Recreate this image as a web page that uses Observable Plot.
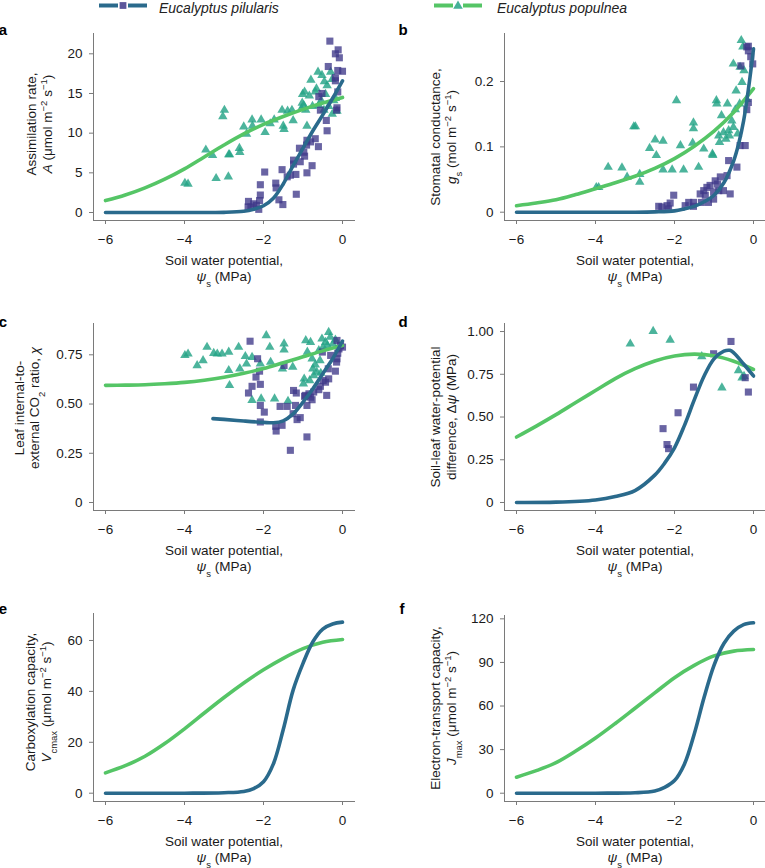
<!DOCTYPE html>
<html><head><meta charset="utf-8">
<script src="https://cdn.jsdelivr.net/npm/d3@7"></script>
<script src="https://cdn.jsdelivr.net/npm/@observablehq/plot@0.6"></script>
<style>
body{margin:0;background:#fff;font-family:"Liberation Sans",Arial,sans-serif;}
#root{position:relative;width:765px;height:868px;overflow:hidden;}
#root svg.panel{position:absolute;}
#root svg.panel text{font-family:"Liberation Sans",Arial,sans-serif;font-size:13.5px;}
</style></head><body><div id="root"></div>
<script>
// ---------- DATA ----------
const speciesNames = ["Eucalyptus pilularis", "Eucalyptus populnea"];
const xTicks = [-6, -4, -2, 0];
const halfGrid = [-6, -5.5, -5, -4.5, -4, -3.5, -3, -2.5, -2, -1.5, -1, -0.5, 0];

// Panel a: assimilation rate
const aTicks = [0, 5, 10, 15, 20];
const aPopulnea = [[-3.99,3.7],[-3.91,3.6],[-3.46,7.9],[-3.29,7.2],[-3.20,4.3],[-2.99,12.9],[-3.03,12.1],[-2.88,7.3],[-2.89,4.5],[-2.86,7.3],[-2.61,8.1],[-2.60,7.6],[-2.50,10.8],[-2.43,9.9],[-2.29,11.7],[-2.28,10.9],[-2.06,11.7],[-1.96,10.1],[-1.83,11.2],[-1.73,11.7],[-1.53,12.9],[-1.50,10.9],[-1.48,10.5],[-1.39,12.8],[-1.25,11.6],[-1.28,12.9],[-1.04,13.1],[-1.01,14.9],[-0.96,15.2],[-1.02,13.8],[-0.98,13.5],[-0.93,12.9],[-0.90,10.9],[-0.84,14.7],[-0.80,16.7],[-0.76,13.4],[-0.69,15.2],[-0.66,15.6],[-0.62,17.7],[-0.60,13.5],[-0.54,14.1],[-0.52,17.3],[-0.46,16.5],[-0.43,14.9],[-0.39,16.0],[-0.35,13.4],[-0.30,17.7],[-0.26,12.4],[-0.22,14.1],[-0.26,16.8],[-0.14,12.8],[-0.18,14.4],[-0.47,12.9]];
const aPilularis = [[-0.32,21.6],[-0.18,20.0],[-0.11,20.5],[-0.08,19.5],[-0.36,18.4],[-0.12,17.9],[0,17.8],[-0.18,17.0],[-0.18,16.6],[-0.12,15.2],[-0.52,15.0],[-0.60,14.6],[-0.14,13.2],[-0.15,12.9],[-0.56,12.9],[-0.41,11.6],[-0.39,10.3],[-0.69,9.3],[-0.90,9.1],[-0.91,8.5],[-0.81,8.9],[-0.61,8.3],[-1.09,8.1],[-0.98,7.6],[-0.96,7.1],[-1.07,6.4],[-1.24,6.6],[-0.77,5.9],[-1.24,6.1],[-1.18,4.8],[-1.32,4.7],[-1.40,4.5],[-0.90,5.0],[-1.53,5.4],[-1.17,2.3],[-1.69,3.7],[-1.68,3.1],[-1.61,1.6],[-1.51,1.0],[-1.97,5.1],[-2.08,3.5],[-2.08,2.2],[-2.10,1.5],[-2.38,1.4],[-2.25,1.1],[-2.18,0.9],[-2.12,0.4],[-2.32,0.7],[-2.39,0.7]];
const aFitPopulnea = [1.5, 2.2, 3.1, 4.2, 5.5, 7.0, 8.5, 9.9, 11.1, 12.1, 13.0, 13.8, 14.5];
const aFitPilX = [-6, -5, -4, -3, -2.5, -2.25, -2, -1.75, -1.5, -1.25, -1, -0.75, -0.5, -0.25, 0];
const aFitPilY = [0, 0, 0, 0.02, 0.15, 0.4, 0.85, 1.8, 3.6, 5.9, 8.1, 10.3, 12.3, 14.4, 16.6];

// Panel b: stomatal conductance
const bTicks = [0, 0.1, 0.2];
const bPopulnea = [[-3.98,0.038],[-3.92,0.038],[-3.68,0.069],[-3.33,0.068],[-3.20,0.054],[-3.03,0.131],[-2.99,0.131],[-2.88,0.058],[-2.88,0.046],[-2.63,0.098],[-2.49,0.111],[-2.46,0.087],[-2.29,0.109],[-2.29,0.065],[-2.06,0.065],[-1.95,0.171],[-1.85,0.102],[-1.77,0.065],[-1.52,0.137],[-1.52,0.128],[-1.54,0.106],[-1.39,0.069],[-1.26,0.097],[-1.04,0.089],[-1.03,0.087],[-0.94,0.171],[-0.93,0.166],[-0.88,0.117],[-0.86,0.107],[-0.81,0.148],[-0.76,0.122],[-0.70,0.112],[-0.66,0.166],[-0.63,0.125],[-0.61,0.117],[-0.55,0.140],[-0.51,0.130],[-0.46,0.157],[-0.44,0.186],[-0.40,0.120],[-0.35,0.166],[-0.34,0.222],[-0.29,0.199],[-0.31,0.263],[-0.27,0.253],[-0.24,0.217],[-0.17,0.173],[-0.51,0.227]];
const bPilularis = [[-0.17,0.253],[-0.13,0.254],[-0.13,0.247],[-0.07,0.238],[-0.32,0.224],[-0.02,0.227],[-0.13,0.168],[-0.17,0.157],[-0.34,0.102],[-0.21,0.102],[-0.42,0.069],[-0.63,0.079],[-0.67,0.056],[-0.84,0.054],[-0.97,0.048],[-0.91,0.043],[-0.88,0.033],[-1.10,0.041],[-1.18,0.038],[-1.26,0.033],[-1.35,0.028],[-1.22,0.026],[-1.01,0.020],[-1.14,0.015],[-1.32,0.015],[-1.52,0.015],[-1.52,0.009],[-1.64,0.015],[-1.73,0.010],[-2.02,0.026],[-2.11,0.014],[-2.19,0.010],[-2.32,0.008],[-2.40,0.009],[-2.15,0.005],[-0.76,0.033],[-0.59,0.028],[-1.01,0.031]];
const bFitPopulnea = [0.010, 0.014, 0.019, 0.027, 0.036, 0.045, 0.055, 0.067, 0.082, 0.101, 0.124, 0.153, 0.189];
const bFitPilX = [-6, -5, -4, -3, -2.5, -2, -1.75, -1.5, -1.25, -1, -0.75, -0.5, -0.375, -0.25, -0.125, 0];
const bFitPilY = [0, 0, 0, 0, 0.0005, 0.002, 0.005, 0.009, 0.016, 0.026, 0.045, 0.079, 0.105, 0.14, 0.19, 0.25];

// Panel c: ci/ca ratio
const cTicks = [0, 0.25, 0.5, 0.75];
const cPopulnea = [[-3.99,0.747],[-3.91,0.755],[-3.68,0.696],[-3.53,0.721],[-3.43,0.789],[-3.26,0.758],[-3.17,0.755],[-3.05,0.755],[-2.88,0.764],[-2.88,0.671],[-2.86,0.595],[-2.63,0.789],[-2.60,0.679],[-2.46,0.742],[-2.43,0.704],[-2.29,0.738],[-2.29,0.519],[-2.08,0.704],[-2.06,0.527],[-1.93,0.848],[-1.84,0.789],[-1.82,0.713],[-1.72,0.527],[-1.52,0.679],[-1.48,0.806],[-1.48,0.775],[-1.38,0.515],[-1.26,0.688],[-0.97,0.628],[-0.99,0.603],[-0.93,0.823],[-0.89,0.764],[-0.83,0.620],[-0.81,0.814],[-0.77,0.730],[-0.75,0.679],[-0.73,0.645],[-0.69,0.700],[-0.65,0.662],[-0.60,0.772],[-0.57,0.721],[-0.52,0.831],[-0.49,0.789],[-0.43,0.814],[-0.35,0.865],[-0.31,0.840],[-0.24,0.806],[-0.38,0.797],[-0.18,0.826],[-0.55,0.657]];
const cPilularis = [[-2.34,0.819],[-2.15,0.730],[-2.10,0.667],[-2.19,0.637],[-2.29,0.590],[-2.38,0.556],[-2.08,0.600],[-2.08,0.493],[-1.98,0.459],[-2.08,0.409],[-1.48,0.696],[-1.58,0.488],[-1.40,0.488],[-1.69,0.387],[-1.68,0.363],[-1.53,0.392],[-1.32,0.265],[-1.24,0.569],[-1.17,0.556],[-1.19,0.493],[-1.25,0.451],[-1.15,0.421],[-1.07,0.431],[-0.90,0.333],[-0.96,0.539],[-0.94,0.544],[-0.90,0.493],[-0.85,0.552],[-0.81,0.535],[-0.77,0.522],[-0.73,0.561],[-0.60,0.573],[-0.56,0.590],[-0.49,0.620],[-0.43,0.611],[-0.35,0.628],[-0.36,0.679],[-0.30,0.747],[-0.18,0.667],[-0.15,0.713],[-0.14,0.730],[-0.12,0.758],[-0.09,0.780],[-0.05,0.797],[-0.14,0.823],[0,0.789],[-0.51,0.764],[-0.40,0.544]];
const cFitPopulnea = [0.595, 0.596, 0.598, 0.603, 0.610, 0.621, 0.636, 0.656, 0.680, 0.710, 0.740, 0.770, 0.797];
const cFitPilX = [-3.28, -3, -2.5, -2, -1.75, -1.5, -1.25, -1, -0.75, -0.5, -0.25, 0];
const cFitPilY = [0.426, 0.422, 0.414, 0.407, 0.405, 0.415, 0.45, 0.51, 0.578, 0.654, 0.73, 0.82];

// Panel d: soil-leaf water potential difference
const dTicks = [0, 0.25, 0.5, 0.75, 1];
const dPopulnea = [[-3.12,0.928],[-2.54,1.002],[-2.11,0.951],[-1.31,0.854],[-0.80,0.671],[-0.38,0.772],[-0.29,0.730],[-0.24,0.739]];
const dPilularis = [[-0.57,0.942],[-1.01,0.870],[-1.52,0.675],[-1.91,0.525],[-2.29,0.432],[-2.19,0.339],[-2.15,0.315],[-0.21,0.730],[-0.13,0.646]];
const dFitPopulnea = [0.383, 0.447, 0.514, 0.585, 0.655, 0.725, 0.783, 0.828, 0.857, 0.868, 0.858, 0.826, 0.778];
const dFitPilX = [-6, -5, -4, -3.5, -3, -2.5, -2.25, -2, -1.75, -1.5, -1.25, -1, -0.75, -0.6, -0.5, -0.25, 0];
const dFitPilY = [0, 0.002, 0.015, 0.035, 0.07, 0.16, 0.23, 0.32, 0.45, 0.6, 0.74, 0.84, 0.885, 0.89, 0.875, 0.81, 0.74];

// Panel e: Vcmax
const eTicks = [0, 20, 40, 60];
const eFitPopulnea = [8.0, 10.8, 14.5, 19.5, 25.3, 31.5, 37.6, 43.3, 48.5, 53.0, 56.8, 59.3, 60.4];
const eFitPilX = [-6, -4, -3, -2.5, -2.25, -2, -1.75, -1.5, -1.25, -1, -0.75, -0.5, -0.25, 0];
const eFitPilY = [0, 0, 0.2, 0.7, 1.8, 4.5, 11.5, 25, 40.5, 51, 59.5, 64.5, 66.5, 67.2];

// Panel f: Jmax
const fTicks = [0, 30, 60, 90, 120];
const fFitPopulnea = [11, 15.5, 21, 29, 38, 48, 58.5, 69, 79.5, 88, 94.5, 97.8, 98.9];
const fFitPilX = [-6, -4, -3, -2.5, -2.25, -2, -1.75, -1.5, -1.25, -1, -0.75, -0.5, -0.25, 0];
const fFitPilY = [0, 0, 0.3, 1.5, 4, 8.7, 20, 40.8, 66, 88, 103, 111.5, 116, 117.3];

// ---------- STYLE ----------
const FONT = '"Liberation Sans", Arial, sans-serif';
const FS = 13.5;
const DARK = "#2a6a8c", GREEN = "#55c566", SQ = "#3f3889", TRI = "#25a386", AXIS = "#7a7a7a", INK = "#1a1a1a";
const zip = (xs, ys) => xs.map((x, i) => [x, ys[i]]);
const root = document.getElementById("root");

const fmtInt = d => (d < 0 ? "\u2212" : "") + Math.abs(d);
const fmt1 = d => d === 0 ? "0" : d.toFixed(1);
const fmt2 = d => d === 0 ? "0" : d.toFixed(2);

function addRich(g, x, y, parts, opts = {}) {
  const t = g.append("text")
    .attr("text-anchor", "middle")
    .style("font-family", FONT)
    .style("font-size", FS + "px")
    .style("text-anchor", "middle")
    .attr("fill", INK)
    .attr("transform", opts.rotate ? `translate(${x},${y}) rotate(-90)` : `translate(${x},${y})`);
  for (const [txt, st] of parts) {
    const s = t.append("tspan").text(txt);
    if (st === "i") s.style("font-style", "italic");
    if (st === "sup") s.attr("baseline-shift", "super").style("font-size", "9.5px");
    if (st === "sub") s.attr("baseline-shift", "sub").style("font-size", "9.5px");
  }
}

function panel(cfg) {
  const xDomain = [-6.304, 0.329];
  const marks = [
    Plot.ruleX([xDomain[0]], {stroke: AXIS, strokeWidth: 1}),
    Plot.ruleY([cfg.yDomain[0]], {stroke: AXIS, strokeWidth: 1}),
    Plot.axisX({ticks: xTicks, tickSize: 4, tickPadding: 10, label: null, stroke: AXIS, fill: INK, fontSize: FS, tickFormat: fmtInt}),
    Plot.axisY({ticks: cfg.yTicks, tickSize: 4, tickPadding: 7, label: null, stroke: AXIS, fill: INK, fontSize: FS, tickFormat: cfg.yFmt})
  ];
  if (cfg.tri) marks.push(Plot.dot(cfg.tri, {x: d => d[0], y: d => d[1], symbol: "triangle", r: 3.5, fill: TRI, fillOpacity: 0.82}));
  if (cfg.sq) marks.push(Plot.dot(cfg.sq, {x: d => d[0], y: d => d[1], symbol: "square", r: 4, fill: SQ, fillOpacity: 0.78}));
  marks.push(Plot.line(cfg.green, {x: d => d[0], y: d => d[1], stroke: GREEN, strokeWidth: 3.6, curve: "catmull-rom"}));
  marks.push(Plot.line(cfg.dark, {x: d => d[0], y: d => d[1], stroke: DARK, strokeWidth: 3.6, curve: "catmull-rom"}));
  const svg = Plot.plot({
    width: cfg.w, height: cfg.h,
    marginLeft: cfg.mL, marginRight: cfg.mR, marginTop: cfg.mT, marginBottom: cfg.mB,
    style: {fontFamily: FONT, fontSize: FS + "px", background: "transparent", overflow: "visible", color: INK},
    x: {domain: xDomain},
    y: {domain: cfg.yDomain},
    marks
  });
  svg.classList.add("panel");
  svg.style.left = cfg.left + "px";
  svg.style.top = cfg.top + "px";
  root.appendChild(svg);
  const g = d3.select(svg).append("g");
  g.append("text").attr("x", cfg.letterX).attr("y", cfg.letterY)
    .style("font-family", FONT).style("font-weight", "bold").style("font-size", "15px")
    .attr("fill", "#000").text(cfg.letter);
  addRich(g, cfg.yx1, cfg.ycy, cfg.y1, {rotate: true});
  addRich(g, cfg.yx2, cfg.ycy, cfg.y2, {rotate: true});
  const axisY = cfg.h - cfg.mB;
  const cx = (cfg.mL + cfg.w - cfg.mR) / 2;
  addRich(g, cx, axisY + 45, [["Soil water potential,"]]);
  addRich(g, cx, axisY + 61, [["ψ", "i"], ["s", "sub"], [" (MPa)"]]);
}

const unitsUmol = [[" (μmol m"], ["−2", "sup"], [" s"], ["−1", "sup"], [")"]];

panel({letter: "a", left: 0, top: 0, w: 380, h: 295, mL: 93, mR: 25, mT: 33, mB: 75,
  yDomain: [-1.008, 22.56], yTicks: aTicks, yFmt: fmtInt,
  tri: aPopulnea, sq: aPilularis, green: zip(halfGrid, aFitPopulnea), dark: zip(aFitPilX, aFitPilY),
  letterX: 3, letterY: 35, yx1: 36, yx2: 52, ycy: 124,
  y1: [["Assimilation rate,"]], y2: [["A", "i"], ...unitsUmol]});

panel({letter: "b", left: 380, top: 0, w: 386, h: 295, mL: 124, mR: 0, mT: 33, mB: 75,
  yDomain: [-0.0127, 0.2735], yTicks: bTicks, yFmt: fmt1,
  tri: bPopulnea, sq: bPilularis, green: zip(halfGrid, bFitPopulnea), dark: zip(bFitPilX, bFitPilY),
  letterX: 23, letterY: 35, yx1: 60, yx2: 76, ycy: 137,
  y1: [["Stomatal conductance,"]], y2: [["g", "i"], ["s", "sub"], [" (mol m"], ["−2", "sup"], [" s"], ["−1", "sup"], [")"]]});

panel({letter: "c", left: 0, top: 295, w: 380, h: 290, mL: 93, mR: 25, mT: 28, mB: 75,
  yDomain: [-0.0406, 0.909], yTicks: cTicks, yFmt: fmt2,
  tri: cPopulnea, sq: cPilularis, green: zip(halfGrid, cFitPopulnea), dark: zip(cFitPilX, cFitPilY),
  letterX: 3, letterY: 32, yx1: 23.5, yx2: 38.5, ycy: 113,
  y1: [["Leaf internal-to-"]], y2: [["external CO"], ["2", "sub"], [" ratio, "], ["χ", "i"]]});

panel({letter: "d", left: 380, top: 295, w: 386, h: 290, mL: 124, mR: 0, mT: 28, mB: 75,
  yDomain: [-0.0468, 1.047], yTicks: dTicks, yFmt: fmt2,
  tri: dPopulnea, sq: dPilularis, green: zip(halfGrid, dFitPopulnea), dark: zip(dFitPilX, dFitPilY),
  letterX: 23, letterY: 32, yx1: 60, yx2: 76, ycy: 122,
  y1: [["Soil-leaf water-potential"]], y2: [["difference, Δ"], ["ψ", "i"], [" (MPa)"]]});

panel({letter: "e", left: 0, top: 585, w: 380, h: 283, mL: 93, mR: 25, mT: 28, mB: 67,
  yDomain: [-3.26, 70.6], yTicks: eTicks, yFmt: fmtInt,
  green: zip(halfGrid, eFitPopulnea), dark: zip(eFitPilX, eFitPilY),
  letterX: 3, letterY: 29, yx1: 35, yx2: 51, ycy: 117,
  y1: [["Carboxylation capacity,"]], y2: [["V", "i"], ["cmax", "sub"], ...unitsUmol]});

panel({letter: "f", left: 380, top: 585, w: 386, h: 283, mL: 124, mR: 0, mT: 30, mB: 67,
  yDomain: [-5.71, 122.3], yTicks: fTicks, yFmt: fmtInt,
  green: zip(halfGrid, fFitPopulnea), dark: zip(fFitPilX, fFitPilY),
  letterX: 22, letterY: 29, yx1: 60, yx2: 76, ycy: 123,
  y1: [["Electron-transport capacity,"]], y2: [["J", "i"], ["max", "sub"], ...unitsUmol]});

// ---------- LEGEND ----------
const leg = d3.select(root).append("svg").attr("width", 765).attr("height", 18)
  .style("position", "absolute").style("left", "0px").style("top", "0px");
const legendItems = [
  {name: speciesNames[0], x0: 99, line: DARK, marker: "square", mfill: SQ, tx: 159},
  {name: speciesNames[1], x0: 434, line: GREEN, marker: "triangle", mfill: TRI, tx: 497}
];
for (const it of legendItems) {
  leg.append("line").attr("x1", it.x0).attr("x2", it.x0 + 19).attr("y1", 5.5).attr("y2", 5.5).attr("stroke", it.line).attr("stroke-width", 4);
  leg.append("line").attr("x1", it.x0 + 29).attr("x2", it.x0 + 48).attr("y1", 5.5).attr("y2", 5.5).attr("stroke", it.line).attr("stroke-width", 4);
  const sym = it.marker === "square" ? d3.symbolSquare : d3.symbolTriangle;
  leg.append("path").attr("d", d3.symbol(sym, it.marker === "square" ? 46 : 40)())
    .attr("transform", `translate(${it.x0 + 24},${it.marker === "square" ? 5.5 : 6})`)
    .attr("fill", it.mfill).attr("fill-opacity", 0.85);
  leg.append("text").attr("x", it.tx).attr("y", 12.5).style("font-family", FONT).style("font-style", "italic")
    .style("font-size", "14px").attr("fill", "#222").text(it.name);
}
</script></body></html>
